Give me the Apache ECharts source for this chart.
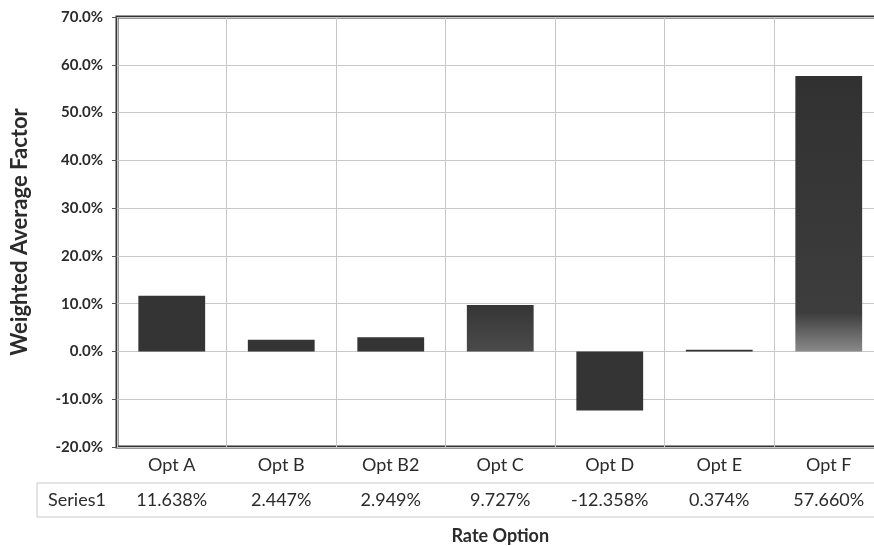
<!DOCTYPE html>
<html>
<head>
<meta charset="utf-8">
<script src="https://cdn.jsdelivr.net/npm/echarts@6/dist/echarts.min.js"></script>
<style>
  html, body { margin: 0; padding: 0; background: #fff; }
  #chart { width: 874px; height: 546px; }
</style>
</head>
<body>
<div id="chart"></div>
<script>
// Weighted average factor per rate option
const categories = ['Opt A', 'Opt B', 'Opt B2', 'Opt C', 'Opt D', 'Opt E', 'Opt F'];
const seriesName = 'Series1';
const values = [11.638, 2.447, 2.949, 9.727, -12.358, 0.374, 57.660];
const yMin = -20, yMax = 70, yStep = 10;

const FONT = 'Lato, "Open Sans", sans-serif';
const INK = '#2b2b2b';
const GRID_LINE = '#c8c8c8';

const barData = values.map(function (v, i) {
  const item = { value: v };
  if (i === values.length - 1) {
    item.itemStyle = {
      color: new echarts.graphic.LinearGradient(0, 0, 0, 1, [
        { offset: 0, color: '#313131' },
        { offset: 0.86, color: '#3d3d3d' },
        { offset: 1, color: '#8a8a8a' }
      ])
    };
  } else if (i === 3) {
    item.itemStyle = {
      color: new echarts.graphic.LinearGradient(0, 0, 0, 1, [
        { offset: 0, color: '#363636' },
        { offset: 1, color: '#4a4a4a' }
      ])
    };
  }
  return item;
});

const chart = echarts.init(document.getElementById('chart'), null, { renderer: 'canvas' });

chart.setOption({
  animation: false,
  backgroundColor: '#ffffff',
  grid: {
    left: 117, width: 766.5, top: 17, height: 430,
    containLabel: false,
    outerBoundsMode: 'none',
    show: true, borderColor: '#333333', borderWidth: 3, backgroundColor: 'transparent'
  },
  xAxis: [
    {
      type: 'category',
      data: categories,
      position: 'bottom',
      axisLine: { show: false },
      axisTick: { show: true, length: 70, lineStyle: { color: GRID_LINE, width: 1 } },
      splitLine: { show: true, lineStyle: { color: GRID_LINE, width: 1 } },
      axisLabel: { margin: 9, fontFamily: FONT, fontSize: 18, color: INK },
      name: 'Rate Option',
      nameLocation: 'middle',
      nameGap: 80,
      nameTextStyle: { fontFamily: FONT, fontSize: 18, fontWeight: 'bold', color: INK }
    },
    {
      type: 'category',
      data: values.map(function (v) { return v.toFixed(3) + '%'; }),
      position: 'bottom',
      offset: 36,
      axisLine: { show: false },
      axisTick: { show: false },
      splitLine: { show: false },
      axisLabel: { margin: 8, fontFamily: FONT, fontSize: 18, color: INK }
    }
  ],
  yAxis: {
    type: 'value',
    min: yMin, max: yMax, interval: yStep,
    axisLine: { show: false },
    axisTick: { show: true, length: 5, lineStyle: { color: '#555' } },
    splitLine: { show: true, lineStyle: { color: GRID_LINE, width: 1 } },
    axisLabel: {
      margin: 14, fontFamily: FONT, fontSize: 15, fontWeight: 'bold', color: INK,
      formatter: function (v) { return v.toFixed(1) + '%'; }
    },
    name: 'Weighted Average Factor',
    nameLocation: 'middle',
    nameGap: 86,
    nameTextStyle: { fontFamily: FONT, fontSize: 22, fontWeight: 'bold', color: INK }
  },
  series: [{
    name: seriesName,
    type: 'bar',
    xAxisIndex: 0,
    data: barData,
    barWidth: '61%',
    itemStyle: { color: '#343434' }
  }],
  graphic: [
    { type: 'line', shape: { x1: 37, y1: 483, x2: 874, y2: 483 }, style: { stroke: GRID_LINE, lineWidth: 1 } },
    { type: 'line', shape: { x1: 37, y1: 517, x2: 874, y2: 517 }, style: { stroke: GRID_LINE, lineWidth: 1 } },
    { type: 'line', shape: { x1: 37, y1: 483, x2: 37, y2: 517 }, style: { stroke: GRID_LINE, lineWidth: 1 } },
    {
      type: 'text', x: 77, y: 500,
      style: { text: seriesName, font: '18px ' + FONT, fill: INK, textAlign: 'center', textVerticalAlign: 'middle' }
    }
  ]
});
</script>
</body>
</html>
